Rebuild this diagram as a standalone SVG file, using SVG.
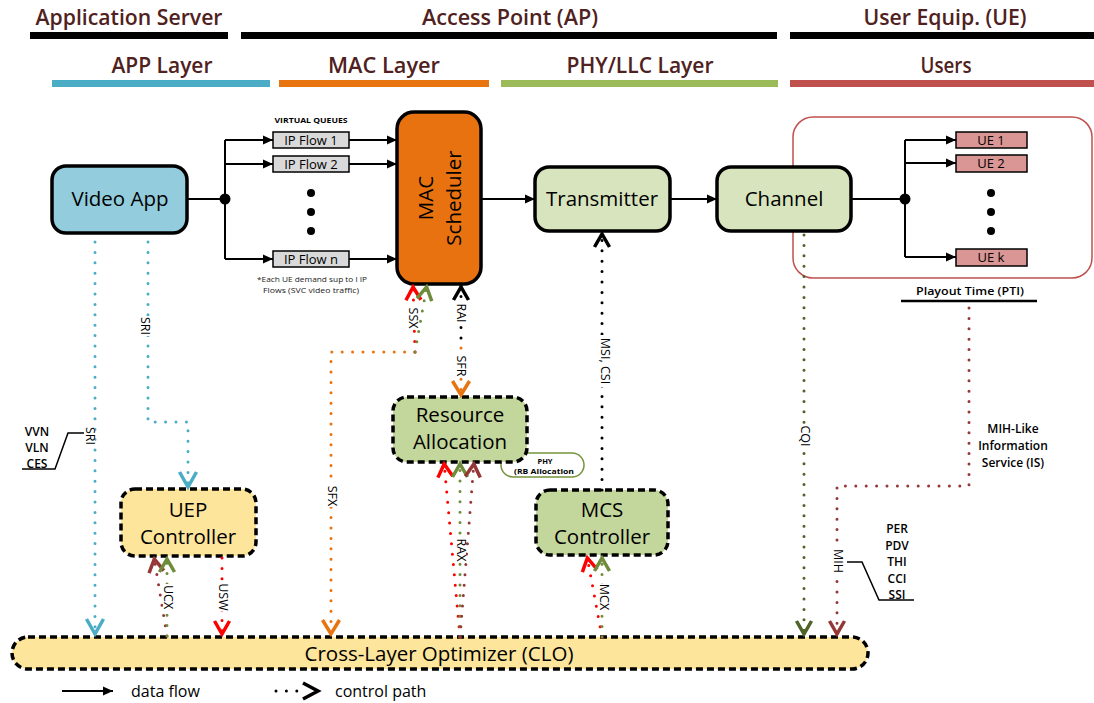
<svg xmlns="http://www.w3.org/2000/svg" width="1094" height="703" viewBox="0 0 1094 703">
<style>
text{font-family:"Open Sans","Liberation Sans",sans-serif;fill:#000}
.hdr{font-size:21px;font-weight:600;fill:#4f2120;text-anchor:middle}
.nt{font-size:20.5px;text-anchor:middle}
.sm{font-size:13px;text-anchor:middle}
.tiny{font-size:7.5px;font-weight:700;text-anchor:middle}
.note{font-size:7.5px;text-anchor:middle;fill:#222}
.lbl{font-size:12.5px;text-anchor:middle}
.cal{font-size:12px;font-weight:600;text-anchor:middle}
.solid{stroke:#000;stroke-width:3.5}
.dash{stroke:#000;stroke-width:3.5;stroke-dasharray:7 4}
.data{fill:none;stroke:#000;stroke-width:2}
.ctl{fill:none;stroke-width:3;stroke-linecap:round;stroke-dasharray:0 10.4}
.bg{fill:#fff}
</style>
<defs>
<marker id="arr" markerUnits="userSpaceOnUse" markerWidth="11" markerHeight="10" refX="10" refY="4.5" orient="auto" overflow="visible"><path d="M0,0 L10,4.5 L0,9 z" fill="#000"/></marker>
<marker id="cv-blue" markerUnits="userSpaceOnUse" orient="auto" overflow="visible" markerWidth="20" markerHeight="20"><path d="M-17,-8.5 L-2,0 L-17,8.5" fill="none" stroke="#4bacc6" stroke-width="3.5"/></marker>
<marker id="cv-red" markerUnits="userSpaceOnUse" orient="auto" overflow="visible" markerWidth="20" markerHeight="20"><path d="M-15,-7.5 L-2,0 L-15,7.5" fill="none" stroke="#ff0000" stroke-width="3.5"/></marker>
<marker id="cv-green" markerUnits="userSpaceOnUse" orient="auto" overflow="visible" markerWidth="20" markerHeight="20"><path d="M-15,-7.5 L-2,0 L-15,7.5" fill="none" stroke="#6e8c3a" stroke-width="3.5"/></marker>
<marker id="cv-dgreen" markerUnits="userSpaceOnUse" orient="auto" overflow="visible" markerWidth="20" markerHeight="20"><path d="M-15,-7.5 L-2,0 L-15,7.5" fill="none" stroke="#4f6228" stroke-width="3.5"/></marker>
<marker id="cv-brown" markerUnits="userSpaceOnUse" orient="auto" overflow="visible" markerWidth="20" markerHeight="20"><path d="M-15,-7.5 L-2,0 L-15,7.5" fill="none" stroke="#953735" stroke-width="3.5"/></marker>
<marker id="cv-orange" markerUnits="userSpaceOnUse" orient="auto" overflow="visible" markerWidth="20" markerHeight="20"><path d="M-16,-8.5 L-2,0 L-16,8.5" fill="none" stroke="#e8740f" stroke-width="3.5"/></marker>
<marker id="cv-black" markerUnits="userSpaceOnUse" orient="auto" overflow="visible" markerWidth="20" markerHeight="20"><path d="M-15,-7.5 L-2,0 L-15,7.5" fill="none" stroke="#000" stroke-width="3.5"/></marker>
</defs>
<rect width="1094" height="703" fill="#fff"/>

<g id="header">
<text class="hdr" x="129" y="25" textLength="187" lengthAdjust="spacingAndGlyphs">Application Server</text>
<text class="hdr" x="510" y="25" textLength="176" lengthAdjust="spacingAndGlyphs">Access Point (AP)</text>
<text class="hdr" x="945" y="25" textLength="163" lengthAdjust="spacingAndGlyphs">User Equip. (UE)</text>
<rect x="30" y="32" width="198" height="7" fill="#000"/>
<rect x="241" y="32" width="536" height="7" fill="#000"/>
<rect x="790" y="32" width="304" height="7" fill="#000"/>
<text class="hdr" x="162" y="73" textLength="101" lengthAdjust="spacingAndGlyphs">APP Layer</text>
<text class="hdr" x="384" y="73" textLength="112" lengthAdjust="spacingAndGlyphs">MAC Layer</text>
<text class="hdr" x="640" y="73" textLength="147" lengthAdjust="spacingAndGlyphs">PHY/LLC Layer</text>
<text class="hdr" x="946" y="73" textLength="51" lengthAdjust="spacingAndGlyphs">Users</text>
<rect x="52" y="80" width="218" height="7" fill="#4bacc6"/>
<rect x="279" y="80" width="210" height="7" fill="#e8740f"/>
<rect x="501" y="80" width="277" height="7" fill="#9bbb59"/>
<rect x="790" y="80" width="304" height="7" fill="#c0504d"/>
</g>

<g id="users-container">
<rect x="793" y="117" width="299" height="161" rx="20" fill="none" stroke="#c0504d" stroke-width="1.5"/>
</g>

<g id="data-connectors">
<path class="data" d="M187,199 L225,199"/>
<path class="data" d="M225,140 L225,259"/>
<path class="data" d="M225,140 L273,140" marker-end="url(#arr)"/>
<path class="data" d="M225,164 L273,164" marker-end="url(#arr)"/>
<path class="data" d="M225,259 L273,259" marker-end="url(#arr)"/>
<path class="data" d="M349,140 L397,140" marker-end="url(#arr)"/>
<path class="data" d="M349,164 L397,164" marker-end="url(#arr)"/>
<path class="data" d="M349,259 L397,259" marker-end="url(#arr)"/>
<path class="data" d="M481,199 L535,199" marker-end="url(#arr)"/>
<path class="data" d="M670,199 L717,199" marker-end="url(#arr)"/>
<path class="data" d="M851,199 L905,199"/>
<path class="data" d="M905,140 L905,257"/>
<path class="data" d="M905,140 L956,140" marker-end="url(#arr)"/>
<path class="data" d="M905,163 L956,163" marker-end="url(#arr)"/>
<path class="data" d="M905,257 L956,257" marker-end="url(#arr)"/>
<circle cx="225" cy="199" r="5.5" fill="#000"/>
<circle cx="905" cy="199" r="5.5" fill="#000"/>
</g>

<g id="video-app">
<rect class="solid" x="52" y="166" width="135" height="67" rx="14" fill="#93cddd"/>
<text class="nt" x="120" y="206">Video App</text>
</g>

<g id="virtual-queues">
<text class="tiny" x="311" y="123" textLength="73" lengthAdjust="spacingAndGlyphs">VIRTUAL QUEUES</text>
<g id="ip-flow-1"><rect x="273" y="132" width="76" height="16" fill="#d9d9d9" stroke="#000" stroke-width="1.5"/><text class="sm" x="311" y="145">IP Flow 1</text></g>
<g id="ip-flow-2"><rect x="273" y="156" width="76" height="16" fill="#d9d9d9" stroke="#000" stroke-width="1.5"/><text class="sm" x="311" y="169">IP Flow 2</text></g>
<g id="ip-flow-n"><rect x="273" y="251" width="76" height="16" fill="#d9d9d9" stroke="#000" stroke-width="1.5"/><text class="sm" x="311" y="264">IP Flow n</text></g>
<circle cx="311" cy="193" r="4" fill="#000"/>
<circle cx="311" cy="212" r="4" fill="#000"/>
<circle cx="311" cy="231" r="4" fill="#000"/>
<text class="note" x="312" y="282" textLength="110" lengthAdjust="spacingAndGlyphs">*Each UE demand sup to l IP</text>
<text class="note" x="311" y="293" textLength="96" lengthAdjust="spacingAndGlyphs">Flows (SVC video traffic)</text>
</g>

<g id="mac-scheduler">
<rect class="solid" x="397" y="112" width="84" height="172" rx="17" fill="#e8720f"/>
<text class="nt" transform="translate(433,198) rotate(-90)">MAC</text>
<text class="nt" transform="translate(461,198) rotate(-90)">Scheduler</text>
</g>

<g id="transmitter">
<rect class="solid" x="535" y="167" width="135" height="64" rx="14" fill="#d7e4bd"/>
<text class="nt" x="602" y="206">Transmitter</text>
</g>

<g id="channel">
<rect class="solid" x="717" y="167" width="134" height="64" rx="14" fill="#d7e4bd"/>
<text class="nt" x="784" y="206">Channel</text>
</g>

<g id="ue-list">
<g id="ue-1"><rect x="956" y="132" width="71" height="16" fill="#da9694" stroke="#000" stroke-width="1.5"/><text class="sm" x="991" y="145">UE 1</text></g>
<g id="ue-2"><rect x="956" y="155" width="71" height="17" fill="#da9694" stroke="#000" stroke-width="1.5"/><text class="sm" x="991" y="168">UE 2</text></g>
<g id="ue-k"><rect x="956" y="249" width="71" height="17" fill="#da9694" stroke="#000" stroke-width="1.5"/><text class="sm" x="991" y="262">UE k</text></g>
<circle cx="991" cy="193" r="4" fill="#000"/>
<circle cx="991" cy="212" r="4" fill="#000"/>
<circle cx="991" cy="231" r="4" fill="#000"/>
</g>

<g id="playout-time">
<text x="970" y="295" font-size="11" font-weight="600" text-anchor="middle" textLength="108" lengthAdjust="spacingAndGlyphs">Playout Time (PTI)</text>
<path d="M901,301 L1037,301" stroke="#000" stroke-width="2.5"/>
</g>

<g id="resource-allocation">
<g id="phy-callout">
<rect x="501" y="453" width="83" height="24" rx="12" fill="#fff" stroke="#77933c" stroke-width="1.5"/>
<text class="tiny" x="545" y="464">PHY</text>
<text class="tiny" x="544" y="474" textLength="60" lengthAdjust="spacingAndGlyphs">(RB Allocation</text>
</g>
<rect class="dash" x="393" y="397" width="134" height="65" rx="14" fill="#c3d69b"/>
<text class="nt" x="460" y="422">Resource</text>
<text class="nt" x="460" y="449">Allocation</text>
</g>

<g id="uep-controller">
<rect class="dash" x="121" y="489" width="135" height="67" rx="14" fill="#fde59b"/>
<text class="nt" x="188" y="517">UEP</text>
<text class="nt" x="188" y="544">Controller</text>
</g>

<g id="mcs-controller">
<rect class="dash" x="536" y="490" width="132" height="65" rx="14" fill="#c3d69b"/>
<text class="nt" x="602" y="517">MCS</text>
<text class="nt" x="602" y="544">Controller</text>
</g>

<g id="clo">
<rect class="dash" x="12" y="637" width="856" height="32" rx="16" fill="#fde59b"/>
<text class="nt" x="439" y="661">Cross-Layer Optimizer (CLO)</text>
</g>

<g id="control-connectors">
<path class="ctl" stroke="#4bacc6" d="M95,242 L95,636" marker-end="url(#cv-blue)"/>
<path class="ctl" stroke="#4bacc6" d="M148,242 L148,422 L188,422 L188,489" marker-end="url(#cv-blue)"/>
<path class="ctl" stroke="#953735" d="M167,636 L154,557" marker-end="url(#cv-brown)"/>
<path class="ctl" stroke="#6e8c3a" d="M167,636 L167,557" marker-end="url(#cv-green)"/>
<path class="ctl" stroke="#ff0000" d="M222,558 L222,636" marker-end="url(#cv-red)"/>
<path class="ctl" stroke="#e8740f" d="M415,352 L331,352 L331,636" marker-end="url(#cv-orange)"/>
<path class="ctl" stroke="#ff0000" d="M415,352 L413,285" marker-end="url(#cv-red)"/>
<path class="ctl" stroke="#6e8c3a" d="M415,352 L427,285" marker-end="url(#cv-green)"/>
<path class="ctl" stroke="#000" d="M461,338 L461,285" marker-end="url(#cv-black)"/>
<path class="ctl" stroke="#e8740f" d="M461,348 L461,397" marker-end="url(#cv-orange)"/>
<path class="ctl" stroke="#000" d="M602,490 L602,232" marker-end="url(#cv-black)"/>
<path class="ctl" stroke="#ff0000" d="M460,637 L444,462" marker-end="url(#cv-red)"/>
<path class="ctl" stroke="#6e8c3a" d="M460,637 L460,462" marker-end="url(#cv-green)"/>
<path class="ctl" stroke="#953735" d="M460,637 L474,462" marker-end="url(#cv-brown)"/>
<path class="ctl" stroke="#ff0000" d="M602,637 L587,556" marker-end="url(#cv-red)"/>
<path class="ctl" stroke="#6e8c3a" d="M602,637 L602,556" marker-end="url(#cv-green)"/>
<path class="ctl" stroke="#4f6228" d="M804,235 L804,636" marker-end="url(#cv-dgreen)"/>
<path class="ctl" stroke="#953735" d="M969,308 L969,486 L837,486 L837,636" marker-end="url(#cv-brown)"/>

<g transform="translate(90,436) rotate(90)"><rect class="bg" x="-10" y="-5" width="20" height="10"/><text class="lbl" dy="0.35em">SRI</text></g>
<g transform="translate(145,326) rotate(90)"><rect class="bg" x="-10" y="-5" width="20" height="10"/><text class="lbl" dy="0.35em">SRI</text></g>
<g transform="translate(168,597) rotate(90)"><rect class="bg" x="-13" y="-5" width="26" height="10"/><text class="lbl" dy="0.35em">UCX</text></g>
<g transform="translate(223,597) rotate(90)"><rect class="bg" x="-14" y="-5" width="28" height="10"/><text class="lbl" dy="0.35em">USW</text></g>
<g transform="translate(332,496) rotate(90)"><rect class="bg" x="-11" y="-5" width="22" height="10"/><text class="lbl" dy="0.35em">SFX</text></g>
<g transform="translate(413,318) rotate(90)"><rect class="bg" x="-11" y="-5" width="22" height="10"/><text class="lbl" dy="0.35em">SSX</text></g>
<g transform="translate(461,313) rotate(90)"><rect class="bg" x="-10" y="-5" width="20" height="10"/><text class="lbl" dy="0.35em">RAI</text></g>
<g transform="translate(461,366) rotate(90)"><rect class="bg" x="-11" y="-5" width="22" height="10"/><text class="lbl" dy="0.35em">SFR</text></g>
<g transform="translate(605,361) rotate(90)"><rect class="bg" x="-26" y="-5" width="52" height="10"/><text class="lbl" dy="0.35em">MSI, CSI</text></g>
<g transform="translate(461,550) rotate(90)"><rect class="bg" x="-12" y="-5" width="24" height="10"/><text class="lbl" dy="0.35em">RAX</text></g>
<g transform="translate(604,597) rotate(90)"><rect class="bg" x="-13" y="-5" width="26" height="10"/><text class="lbl" dy="0.35em">MCX</text></g>
<g transform="translate(805,436) rotate(90)"><rect class="bg" x="-11" y="-5" width="22" height="10"/><text class="lbl" dy="0.35em">CQI</text></g>
<g transform="translate(838,561) rotate(90)"><rect class="bg" x="-12" y="-5" width="24" height="10"/><text class="lbl" dy="0.35em">MIH</text></g>
</g>

<g id="callouts">
<text class="cal" x="37" y="436">VVN</text>
<text class="cal" x="37" y="452">VLN</text>
<text class="cal" x="37" y="468">CES</text>
<path d="M84,433 L68,433 L55,469 L22,469" fill="none" stroke="#000" stroke-width="1.5"/>
<text class="cal" x="1013" y="433" font-weight="500">MIH-Like</text>
<text class="cal" x="1013" y="450" font-weight="500">Information</text>
<text class="cal" x="1013" y="467" font-weight="500">Service (IS)</text>
<text class="cal" x="897" y="533">PER</text>
<text class="cal" x="897" y="550">PDV</text>
<text class="cal" x="897" y="566">THI</text>
<text class="cal" x="897" y="583">CCI</text>
<text class="cal" x="897" y="599">SSI</text>
<path d="M847,562 L862,562 L879,600 L914,600" fill="none" stroke="#000" stroke-width="1.5"/>
</g>

<g id="legend">
<path class="data" d="M62,691 L113,691" marker-end="url(#arr)"/>
<text x="131" y="697" font-size="16">data flow</text>
<path class="ctl" stroke="#000" d="M276,691 L297,691"/>
<path d="M303,683 L318,691 L303,699" fill="none" stroke="#000" stroke-width="3.5"/>
<text x="335" y="697" font-size="16">control path</text>
</g>
</svg>
